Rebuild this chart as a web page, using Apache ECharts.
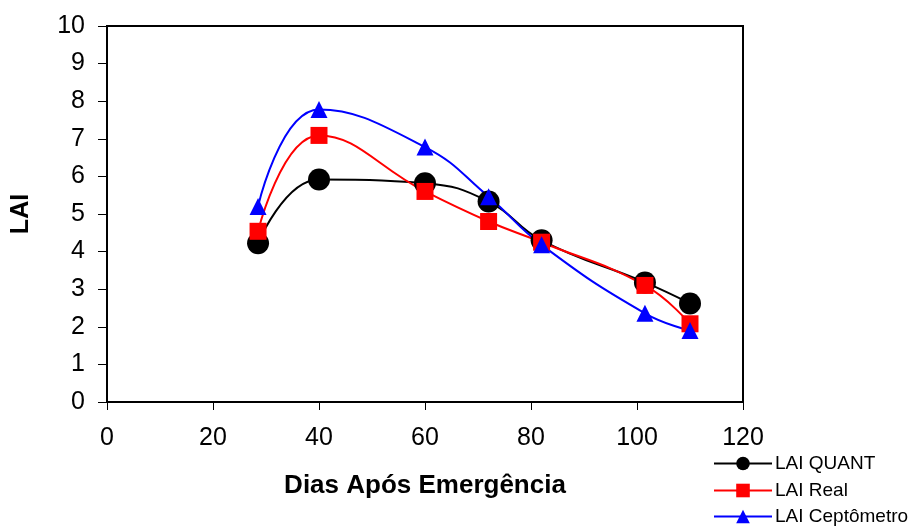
<!DOCTYPE html>
<html>
<head>
<meta charset="utf-8">
<script src="https://cdn.jsdelivr.net/npm/echarts@6/dist/echarts.min.js"></script>
<style>
  html, body { margin: 0; padding: 0; background: #fff; }
  #chart { width: 922px; height: 526px; }
</style>
</head>
<body>
<div id="chart"></div>
<script>
// Days after emergence at each sampling date
const days = [28.5, 40, 60, 72, 82, 101.5, 110];

// Leaf area index by method
const laiQuant = [4.22, 5.92, 5.82, 5.33, 4.30, 3.18, 2.62];
const laiReal = [4.54, 7.09, 5.60, 4.80, 4.25, 3.10, 2.08];
const laiCepto = [5.20, 7.78, 6.78, 5.46, 4.18, 2.36, 1.90];

const seriesNames = ['LAI QUANT', 'LAI Real', 'LAI Ceptômetro'];
const xTicks = [0, 20, 40, 60, 80, 100, 120];
const yTicks = [0, 1, 2, 3, 4, 5, 6, 7, 8, 9, 10];

const font = 'Liberation Sans, Arial, sans-serif';
const pair = (vals) => days.map((d, i) => [d, vals[i]]);

// one legend block per series, stacked under the x axis on the right
const legendTops = [454, 481, 507];
const legends = seriesNames.map((name, i) => ({
  orient: 'vertical', left: 713, top: legendTops[i], padding: 0,
  itemWidth: 58, itemHeight: 17,
  textStyle: { fontFamily: font, fontSize: 19, color: '#000', padding: [0, 0, 0, -2] },
  data: [name]
}));

const chart = echarts.init(document.getElementById('chart'));
chart.setOption({
  animation: false,
  backgroundColor: '#fff',
  grid: { left: 107, right: 179, top: 26, bottom: 124, containLabel: false,
          outerBoundsMode: 'none',
          show: true, borderColor: '#000', borderWidth: 2 },
  xAxis: {
    type: 'value', min: xTicks[0], max: xTicks[xTicks.length - 1], interval: 20,
    name: 'Dias Após Emergência', nameLocation: 'middle', nameGap: 71,
    nameTextStyle: { fontFamily: font, fontSize: 26, fontWeight: 'bold', color: '#000' },
    axisLine: { lineStyle: { color: '#000', width: 2 } },
    axisTick: { show: true, length: 8, lineStyle: { color: '#000', width: 1 } },
    axisLabel: { fontFamily: font, fontSize: 25, color: '#000', margin: 24 },
    splitLine: { show: false }
  },
  yAxis: {
    type: 'value', min: yTicks[0], max: yTicks[yTicks.length - 1], interval: 1,
    name: 'LAI', nameLocation: 'middle', nameGap: 73, nameRotate: 90,
    nameTextStyle: { fontFamily: font, fontSize: 25, fontWeight: 'bold', color: '#000' },
    axisLine: { lineStyle: { color: '#000', width: 2 } },
    axisTick: { show: true, length: 9, lineStyle: { color: '#000', width: 1 } },
    axisLabel: { fontFamily: font, fontSize: 25, color: '#000', margin: 22 },
    splitLine: { show: false }
  },
  legend: legends,
  series: [
    { name: seriesNames[0], type: 'line', data: pair(laiQuant), smooth: 0.45,
      symbol: 'circle', symbolSize: 22, color: '#000',
      lineStyle: { color: '#000', width: 2 }, itemStyle: { color: '#000' } },
    { name: seriesNames[1], type: 'line', data: pair(laiReal), smooth: 0.45,
      symbol: 'rect', symbolSize: 17, color: '#ff0000',
      lineStyle: { color: '#ff0000', width: 2 }, itemStyle: { color: '#ff0000' } },
    { name: seriesNames[2], type: 'line', data: pair(laiCepto), smooth: 0.45,
      symbol: 'triangle', symbolSize: 17, color: '#0000ff',
      lineStyle: { color: '#0000ff', width: 2 }, itemStyle: { color: '#0000ff' } }
  ]
});
</script>
</body>
</html>
